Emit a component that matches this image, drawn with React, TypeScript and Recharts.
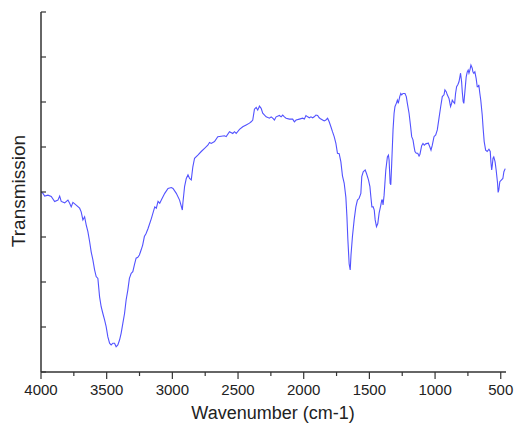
import React from 'react';
import { LineChart, Line, XAxis, YAxis } from 'recharts';

// wavenumber (cm-1) from left to right
const wavenumbers = [
  4000, 3985, 3972, 3947, 3922, 3896, 3871, 3858, 3846, 3820, 3795, 3782, 3770, 3757, 3732, 3706, 3694, 3681, 3668, 3656,
  3643, 3630, 3618, 3605, 3592, 3580, 3567, 3554, 3542, 3529, 3516, 3504, 3491, 3478, 3466, 3453, 3440, 3428, 3415, 3402,
  3390, 3377, 3364, 3352, 3339, 3327, 3314, 3301, 3289, 3276, 3263, 3251, 3238, 3226, 3213, 3200, 3185, 3160, 3134, 3122,
  3109, 3096, 3084, 3058, 3033, 3008, 2995, 2970, 2945, 2924, 2920, 2907, 2894, 2881, 2869, 2856, 2844, 2831, 2806, 2780,
  2755, 2730, 2717, 2704, 2679, 2654, 2628, 2603, 2590, 2565, 2540, 2527, 2514, 2489, 2464, 2438, 2413, 2400, 2388, 2375,
  2362, 2350, 2337, 2324, 2312, 2286, 2261, 2248, 2236, 2223, 2210, 2185, 2172, 2160, 2147, 2134, 2109, 2084, 2071, 2058,
  2033, 2008, 1995, 1983, 1970, 1957, 1945, 1932, 1920, 1907, 1894, 1882, 1869, 1856, 1844, 1831, 1818, 1806, 1793, 1781,
  1768, 1755, 1743, 1730, 1717, 1705, 1692, 1679, 1671, 1664, 1654, 1646, 1640, 1629, 1616, 1603, 1591, 1578, 1565, 1558,
  1547, 1532, 1522, 1507, 1496, 1489, 1481, 1471, 1463, 1456, 1446, 1436, 1426, 1413, 1406, 1401, 1396, 1388, 1375, 1363,
  1355, 1350, 1342, 1337, 1330, 1320, 1312, 1305, 1295, 1287, 1280, 1269, 1261, 1254, 1244, 1229, 1219, 1211, 1198, 1186,
  1178, 1168, 1160, 1153, 1143, 1132, 1122, 1115, 1102, 1092, 1082, 1071, 1059, 1052, 1041, 1031, 1021, 1008, 995, 983,
  970, 957, 945, 932, 925, 915, 907, 894, 882, 874, 869, 862, 851, 844, 836, 826, 818, 811, 806, 798,
  793, 786, 781, 773, 763, 755, 748, 742, 735, 727, 717, 712, 705, 697, 687, 679, 672, 667, 659, 652,
  641, 634, 626, 615, 603, 590, 580, 575, 569, 564, 559, 553, 543, 535, 524, 520, 515, 507, 494, 484,
  476, 466,
];

// transmission, arbitrary units (axis has no numbers)
const transmission = [
  4.0, 3.97, 3.91, 3.93, 3.9, 3.79, 3.82, 3.91, 3.79, 3.76, 3.82, 3.75, 3.67, 3.77, 3.71, 3.64, 3.56, 3.38, 3.45, 3.27,
  3.12, 2.9, 2.67, 2.49, 2.27, 2.12, 2.08, 1.67, 1.45, 1.3, 1.16, 1.01, 0.78, 0.64, 0.6, 0.64, 0.64, 0.56, 0.6, 0.71,
  0.86, 1.08, 1.3, 1.6, 1.82, 2.08, 2.19, 2.23, 2.38, 2.53, 2.55, 2.6, 2.71, 2.82, 3.01, 3.08, 3.19, 3.41, 3.67, 3.64,
  3.79, 3.75, 3.82, 3.97, 4.08, 4.1, 4.08, 3.97, 3.82, 3.6, 3.75, 4.12, 4.3, 4.38, 4.3, 4.27, 4.56, 4.75, 4.82, 4.9,
  4.97, 5.04, 5.1, 5.08, 5.12, 5.23, 5.24, 5.25, 5.23, 5.34, 5.3, 5.34, 5.3, 5.39, 5.45, 5.49, 5.53, 5.56, 5.6, 5.84,
  5.88, 5.82, 5.91, 5.86, 5.75, 5.67, 5.64, 5.67, 5.64, 5.6, 5.67, 5.7, 5.67, 5.71, 5.67, 5.64, 5.62, 5.62, 5.56, 5.6,
  5.62, 5.64, 5.62, 5.7, 5.67, 5.65, 5.67, 5.65, 5.67, 5.71, 5.7, 5.65, 5.62, 5.6, 5.58, 5.6, 5.64, 5.56, 5.45, 5.34,
  5.23, 5.08, 4.86, 4.85, 4.67, 4.36, 4.2, 3.88, 3.45, 2.95, 2.4, 2.27, 2.6, 3.01, 3.38, 3.67, 3.82, 3.86, 3.97, 4.34,
  4.45, 4.49, 4.41, 4.27, 4.12, 3.9, 3.67, 3.67, 3.6, 3.38, 3.23, 3.3, 3.53, 3.71, 3.82, 3.82, 3.71, 3.93, 4.49, 4.78,
  4.82, 4.71, 4.19, 4.16, 4.64, 5.38, 5.75, 5.9, 5.97, 6.04, 5.97, 6.12, 6.19, 6.16, 6.19, 6.19, 6.12, 5.97, 5.75, 5.45,
  5.23, 5.16, 5.01, 4.9, 4.86, 4.86, 4.8, 4.84, 5.03, 5.08, 5.04, 5.07, 5.08, 5.09, 5.01, 4.93, 5.04, 5.23, 5.27, 5.38,
  5.64, 5.9, 6.12, 6.16, 6.27, 6.23, 6.16, 6.08, 5.9, 5.97, 6.04, 6.01, 5.97, 6.19, 6.34, 6.39, 6.45, 6.56, 6.64, 6.45,
  6.23, 6.01, 5.97, 6.23, 6.56, 6.67, 6.71, 6.64, 6.71, 6.82, 6.75, 6.67, 6.64, 6.67, 6.52, 6.34, 6.34, 6.38, 6.19, 6.04,
  5.71, 5.41, 5.12, 4.93, 4.9, 4.95, 4.9, 4.67, 4.49, 4.6, 4.75, 4.78, 4.67, 4.49, 4.19, 3.99, 4.04, 4.23, 4.27, 4.3,
  4.45, 4.52,
];

const xTicks = [4000, 3750, 3500, 3250, 3000, 2750, 2500, 2250, 2000, 1750, 1500, 1250, 1000, 750, 500];
const yTicks = [0, 1, 2, 3, 4, 5, 6, 7, 8];

const data = wavenumbers.map((w, i) => ({ w, t: transmission[i] }));

const FONT = '"Liberation Sans", Arial, sans-serif';
const AXIS = '#333';

const XTick = (props: any) => {
  const { x, y, payload } = props;
  const major = payload.value % 500 === 0;
  return (
    <g>
      <line x1={x} y1={y} x2={x} y2={y + (major ? 7 : 4)} stroke={AXIS} strokeWidth={1.2} />
      {major && (
        <text x={x} y={y + 23} textAnchor="middle" fontSize={15} fontFamily={FONT} fill="#222">
          {payload.value}
        </text>
      )}
    </g>
  );
};

const YTick = (props: any) => {
  const { x, y } = props;
  return <line x1={x} y1={y} x2={x + 5} y2={y} stroke={AXIS} strokeWidth={1.2} />;
};

export default function App() {
  return (
    <div style={{ position: 'absolute', left: 0, top: 0, width: 515, height: 425, background: '#fff' }}>
      <LineChart width={515} height={425} data={data} margin={{ top: 12, right: 9, left: 11, bottom: 23 }}>
        <XAxis
          dataKey="w"
          type="number"
          domain={[460, 4000]}
          reversed
          allowDataOverflow
          ticks={xTicks}
          interval={0}
          height={30}
          tickSize={0}
          tickMargin={0}
          tickLine={false}
          tick={<XTick />}
          axisLine={{ stroke: AXIS, strokeWidth: 1.5 }}
        />
        <YAxis
          type="number"
          domain={[0, 8]}
          ticks={yTicks}
          interval={0}
          width={30}
          tickSize={0}
          tickMargin={0}
          tickLine={false}
          tick={<YTick />}
          axisLine={{ stroke: AXIS, strokeWidth: 1.5 }}
        />
        <Line
          dataKey="t"
          type="linear"
          stroke="#5252ff"
          strokeWidth={1.1}
          dot={false}
          isAnimationActive={false}
        />
        <text x={273} y={419} textAnchor="middle" fontSize={18} fontFamily={FONT} fill="#222">
          Wavenumber (cm-1)
        </text>
        <text
          x={25}
          y={191}
          textAnchor="middle"
          fontSize={19}
          fontFamily={FONT}
          fill="#222"
          transform="rotate(-90, 25, 191)"
        >
          Transmission
        </text>
      </LineChart>
    </div>
  );
}
